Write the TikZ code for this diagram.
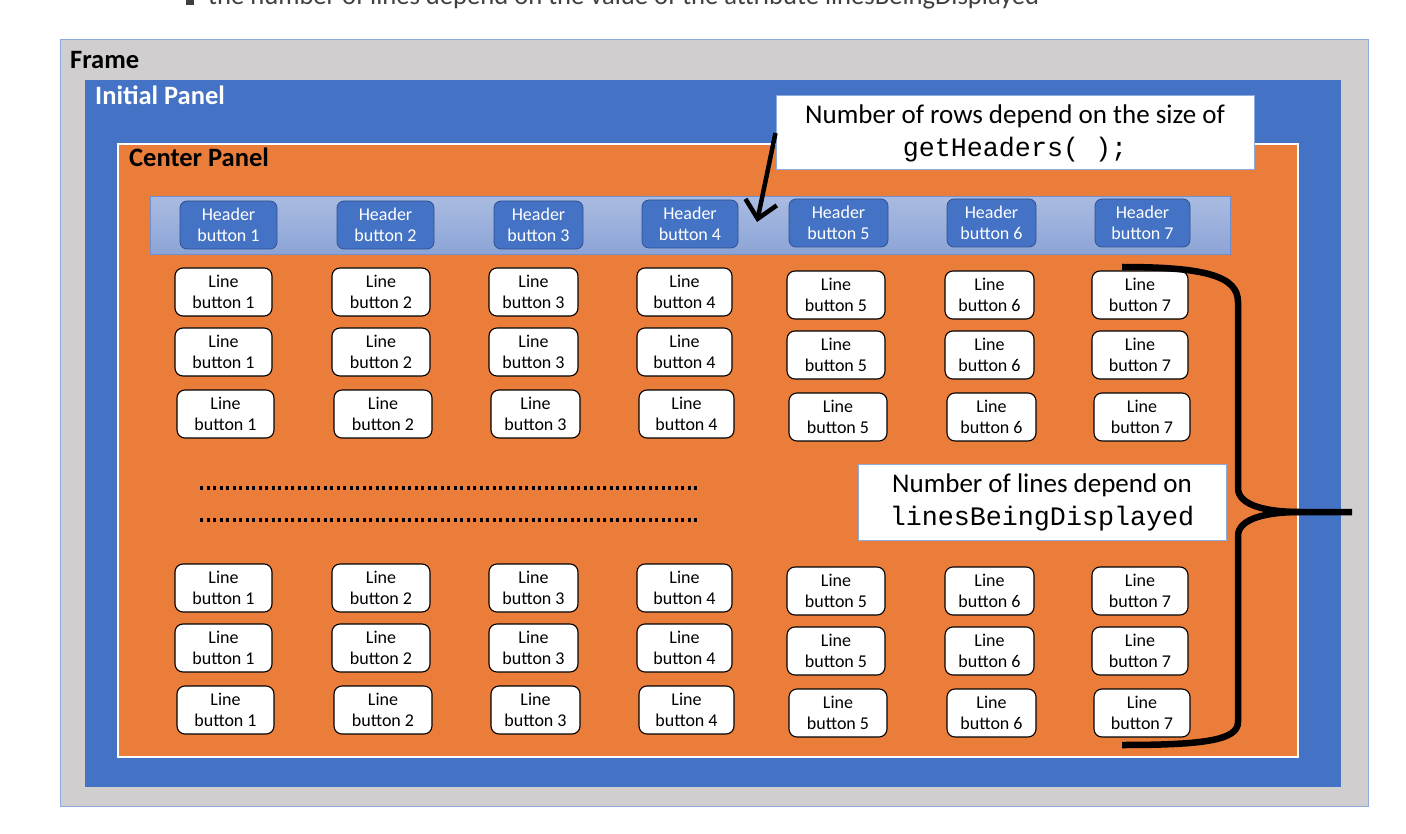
\documentclass[tikz,border=0pt]{standalone}
\usepackage{fontspec}
\setmainfont{Carlito}
\newfontfamily\monof{Liberation Mono}
\usetikzlibrary{arrows.meta}
\definecolor{framegray}{HTML}{D0CECE}
\definecolor{frameborder}{HTML}{8EA9DB}
\definecolor{initblue}{HTML}{4472C4}
\definecolor{hdrborder}{HTML}{2F528F}
\definecolor{centerorange}{HTML}{EB7D3B}
\definecolor{barTop}{HTML}{A9BBE1}
\definecolor{barBot}{HTML}{8CA4D6}
\definecolor{barBorder}{HTML}{6F8FCF}
\definecolor{calloutborder}{HTML}{8FAADC}
\definecolor{toptext}{HTML}{404040}
\newcommand\btnfont{\fontsize{18}{21.5}\selectfont}
\newcommand\notefont{\fontsize{27}{33}\selectfont}
\newcommand\notemono{\monof\fontsize{26.7}{33}\selectfont}
\begin{document}
\begin{tikzpicture}[x=1pt,y=-1pt,
  panel/.style={anchor=north west, inner sep=0pt},
  paneltitle/.style={anchor=base west, inner sep=0pt, font=\fontsize{26.5}{30}\selectfont\bfseries},
  hdrbtn/.style={draw=hdrborder, fill=initblue, rounded corners=7pt, line width=0.8pt, text=white, align=center, font=\btnfont, inner sep=0pt, minimum height=48pt},
  linebtn/.style={draw=black, fill=white, rounded corners=8pt, line width=1.1pt, align=center, font=\btnfont, inner sep=0pt, minimum height=48pt},
  callout/.style={draw=calloutborder, fill=white, line width=1pt, align=center, font=\notefont, inner sep=0pt},
  dotline/.style={line width=3.2pt, dash pattern=on 3.2pt off 3.3pt},
  bracestroke/.style={line width=6.5pt, line join=round}
]
\useasboundingbox (0,0) rectangle (1406,834);
\fill[white] (0,0) rectangle (1406,834);

% cut-off bullet line at the top
\fill[toptext] (186,-3) rectangle (194,5);
\node[anchor=base west, inner sep=0pt, text=toptext, font=\fontsize{26.6}{30}\selectfont] (toptxt) at (208,5) {the number of lines depend on the value of the attribute linesBeingDisplayed};

% frame
\node[panel, draw=frameborder, fill=framegray, line width=1.2pt, minimum width=1308pt, minimum height=767pt] (frame) at (60,39) {};
\node[paneltitle] (framelbl) at (70,69) {Frame};

% initial panel
\node[panel, fill=initblue, minimum width=1256pt, minimum height=707pt] (initial) at (85,80) {};
\node[paneltitle, text=white] (initlbl) at (95,105) {Initial Panel};

% center panel
\node[panel, draw=white, fill=centerorange, line width=2pt, minimum width=1180pt, minimum height=613pt] (center) at (117,143) {};
\node[paneltitle] (centerlbl) at (129,167) {Center Panel};

% header bar
\node[panel, draw=barBorder, top color=barTop, bottom color=barBot, line width=0.8pt, minimum width=1080pt, minimum height=58pt] (hbar) at (150,196) {};

\foreach \i/\x/\y/\w in {1/228.5/225/97, 2/385.5/225/97, 3/538.5/225/89, 4/690/224/96, 5/838.5/223/99, 6/991.5/223/89, 7/1142.5/223/95}
  \node[hdrbtn, minimum width=\w pt] (hb\i) at (\x,\y) {Header\\button \i};

% line buttons
\foreach \r/\ry/\dx in {1/292/0, 2/352/0, 3/414/2, 4/588/0, 5/648/0, 6/710/2}
  \foreach \c/\cx/\w/\dy in {1/223.5/97/0, 2/381/98/0, 3/533.5/89/0, 4/684.5/95/0, 5/836/98/3, 6/989.5/89/3, 7/1140/96/3}
    \node[linebtn, minimum width=\w pt] (lb\r-\c) at ({\cx+\dx},{\ry+\dy}) {Line\\button \c};

% dotted lines
\coordinate (d1a) at (200,488);
\coordinate (d1b) at (700,488);
\coordinate (d2a) at (200,520);
\coordinate (d2b) at (700,520);
\draw[dotline] (d1a) -- (d1b);
\draw[dotline] (d2a) -- (d2b);

% callouts
\node[callout, minimum width=478pt, minimum height=74pt] (rowsnote) at (1015,133) {Number of rows depend on the size of\\{\notemono getHeaders(~);}};
\node[callout, minimum width=368pt, minimum height=76pt] (linesnote) at (1042,502) {Number of lines depend on\\{\notemono linesBeingDisplayed}};

% arrow from callout to header bar
\coordinate (arrowtip) at (757,222);
\draw[line width=4.5pt, -{Straight Barb[length=17pt,width=32pt,line width=4.5pt]}] (rowsnote.west) -- (arrowtip);

% brace
\coordinate (braceTop) at (1122,267);
\coordinate (braceTip) at (1352,512);
\coordinate (braceBot) at (1122,745);
\draw[bracestroke] (braceTop) .. controls (1205,267) and (1238,276) .. (1238,302) -- (1238,488)
  .. controls (1238,506) and (1268,512) .. (1300,512) -- (braceTip);
\draw[bracestroke] (1300,512) .. controls (1268,512) and (1238,518) .. (1238,536) -- (1238,722)
  .. controls (1238,740) and (1205,745) .. (braceBot);
\end{tikzpicture}
\end{document}
